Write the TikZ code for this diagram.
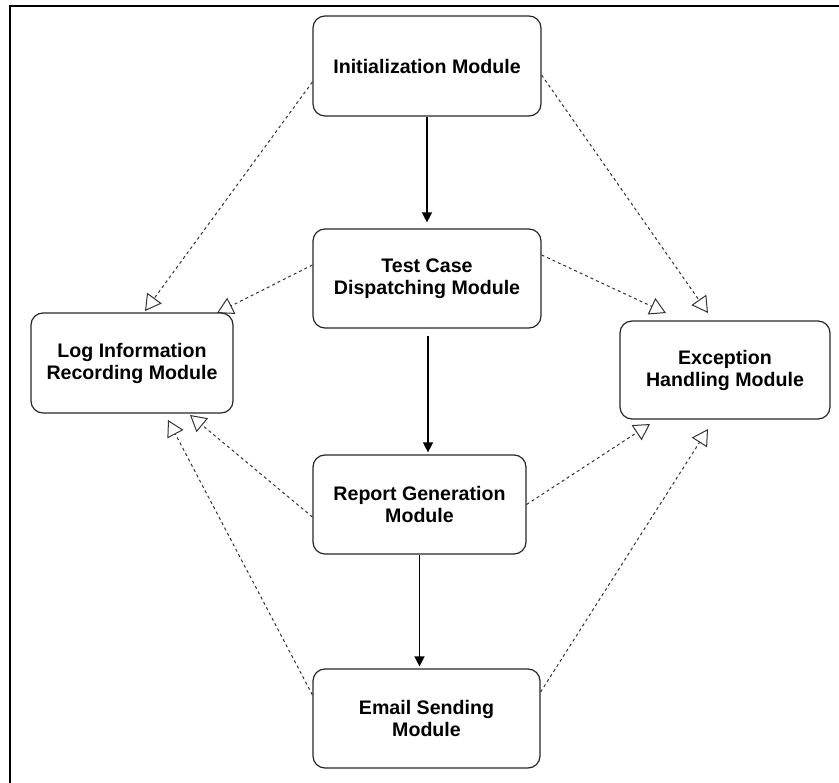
\documentclass[tikz,border=0pt]{standalone}
\usepackage{fontspec}
\setmainfont{Liberation Sans}
\usetikzlibrary{arrows.meta,calc}
\begin{document}
\begin{tikzpicture}[x=1pt,y=-1pt,
  module/.style={draw=black!85, line width=1.2pt, rounded corners=12pt,
    align=center, inner sep=0pt, font=\fontsize{19.6}{22}\selectfont\bfseries},
  flow/.style={draw=black, line width=1.4pt, -{Triangle[length=10pt,width=10pt]}},
  dep/.style={draw=black!80, line width=1pt, dash pattern=on 3pt off 3pt,
    -{Triangle[open,length=16pt,width=18pt,line width=1pt]}}]

\useasboundingbox (0,0) rectangle (839,783);
% outer frame
\draw[line width=2pt] (10,783) -- (10,6) -- (839,6);

% modules
\node[module, minimum width=228pt, minimum height=100pt] (init)   at (427,66)    {Initialization Module};
\node[module, minimum width=228pt, minimum height=99pt]  (test)   at (427,278.5) {Test Case\\Dispatching Module};
\node[module, minimum width=202pt, minimum height=100pt] (log)    at (132,363)   {Log Information\\Recording Module};
\node[module, minimum width=210pt, minimum height=98pt]  (exc)    at (725,370)   {Exception\\Handling Module};
\node[module, minimum width=213pt, minimum height=99pt]  (report) at (419.5,504.5) {Report Generation\\Module};
\node[module, minimum width=227pt, minimum height=99pt]  (email)  at (426.5,718.5) {Email Sending\\Module};

% main flow
\draw[flow, shorten >=6pt] (init.south) -- (test.north);
\draw[flow, shorten >=2pt] ($(test.south)+(1,7)$) coordinate (t2r) -- (t2r |- report.north);
\draw[flow, shorten >=2pt] (report.south) -- (report.south |- email.north);

% dependency end points
\coordinate (l1) at (145,311);
\coordinate (l2) at (217,313);
\coordinate (l3) at (190,415);
\coordinate (l4) at (168,420);
\coordinate (e1) at (708,313);
\coordinate (e2) at (666,313);
\coordinate (e3) at (650,424);
\coordinate (e4) at (708,429);

% dependencies on logging
\draw[dep] ($(init.west)+(0,16)$) -- (l1);
\draw[dep] ($(test.west)+(0,-13.5)$) -- (l2);
\draw[dep] ($(report.west)+(0,12.5)$) -- (l3);
\draw[dep] ($(email.west)+(0,-23.5)$) -- (l4);

% dependencies on exception handling
\draw[dep] ($(init.east)+(0,9)$) -- (e1);
\draw[dep] ($(test.east)+(0,-23.5)$) -- (e2);
\draw[dep] (report.east) -- (e3);
\draw[dep] ($(email.east)+(0,-26.5)$) -- (e4);
\end{tikzpicture}
\end{document}
